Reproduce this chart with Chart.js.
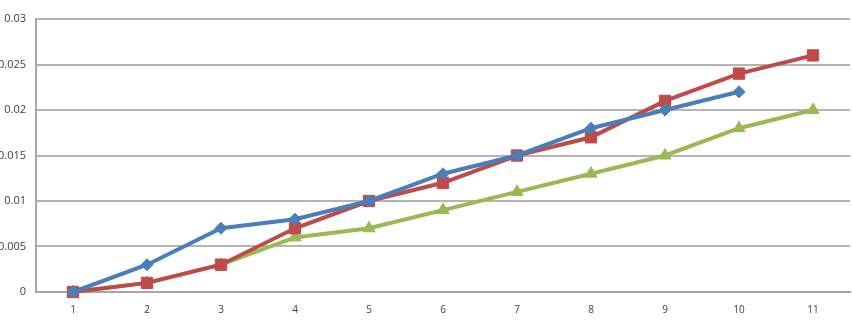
<!DOCTYPE html>
<html>
<head>
<meta charset="utf-8">
<script src="https://cdn.jsdelivr.net/npm/chart.js@4/dist/chart.umd.min.js"></script>
<style>
  html, body { margin: 0; padding: 0; background: #fff; }
  #wrap { width: 852px; height: 320px; }
</style>
</head>
<body>
<div id="wrap"><canvas id="grafico" width="852" height="320"></canvas></div>
<script>
// dados
const categorias = ["1", "2", "3", "4", "5", "6", "7", "8", "9", "10", "11"];
const serieAzul = [0, 0.003, 0.007, 0.008, 0.010, 0.013, 0.015, 0.018, 0.020, 0.022, null];
const serieVermelha = [0, 0.001, 0.003, 0.007, 0.010, 0.012, 0.015, 0.017, 0.021, 0.024, 0.026];
const serieVerde = [0, 0.001, 0.003, 0.006, 0.007, 0.009, 0.011, 0.013, 0.015, 0.018, 0.020];

function serie(dados, cor, estilo, raio) {
    return {
        data: dados,
        borderColor: cor,
        backgroundColor: cor,
        borderWidth: 4,
        pointStyle: estilo,
        pointRadius: raio,
        pointBorderWidth: 1,
        tension: 0,
        spanGaps: false,
        clip: false
    };
}

const ctx = document.getElementById("grafico");
new Chart(ctx, {
    type: "line",
    data: {
        labels: categorias,
        datasets: [
            serie(serieAzul, "#4a7ebb", "rectRot", 6),
            serie(serieVermelha, "#be4b48", "rect", 8),
            serie(serieVerde, "#98b954", "triangle", 7)
        ]
    },
    options: {
        responsive: false,
        animation: false,
        plugins: { legend: { display: false }, tooltip: { enabled: false } },
        layout: { autoPadding: false, padding: { top: 19, right: 2, bottom: 0, left: 0 } },
        scales: {
            x: {
                offset: true,
                afterFit: function(escala) {
                    escala.height = 28;
                    escala.paddingLeft = 0;
                    escala.paddingRight = 0;
                },
                grid: { display: false, drawTicks: false },
                border: { color: "#a6a6a6", width: 2 },
                ticks: { color: "#404040", font: { family: "Open Sans", size: 10 }, padding: 12 }
            },
            y: {
                min: 0,
                max: 0.03,
                afterFit: function(escala) {
                    escala.width = 36;
                    escala.paddingTop = 0;
                    escala.paddingBottom = 0;
                },
                grid: { color: "#b4b4b4", lineWidth: 2, drawTicks: false },
                border: { color: "#a6a6a6", width: 2 },
                ticks: {
                    stepSize: 0.005,
                    color: "#404040",
                    padding: 10,
                    font: { family: "Open Sans", size: 11 },
                    callback: function(v) { return String(Math.round(v * 1000) / 1000); }
                }
            }
        }
    }
});
</script>
</body>
</html>
